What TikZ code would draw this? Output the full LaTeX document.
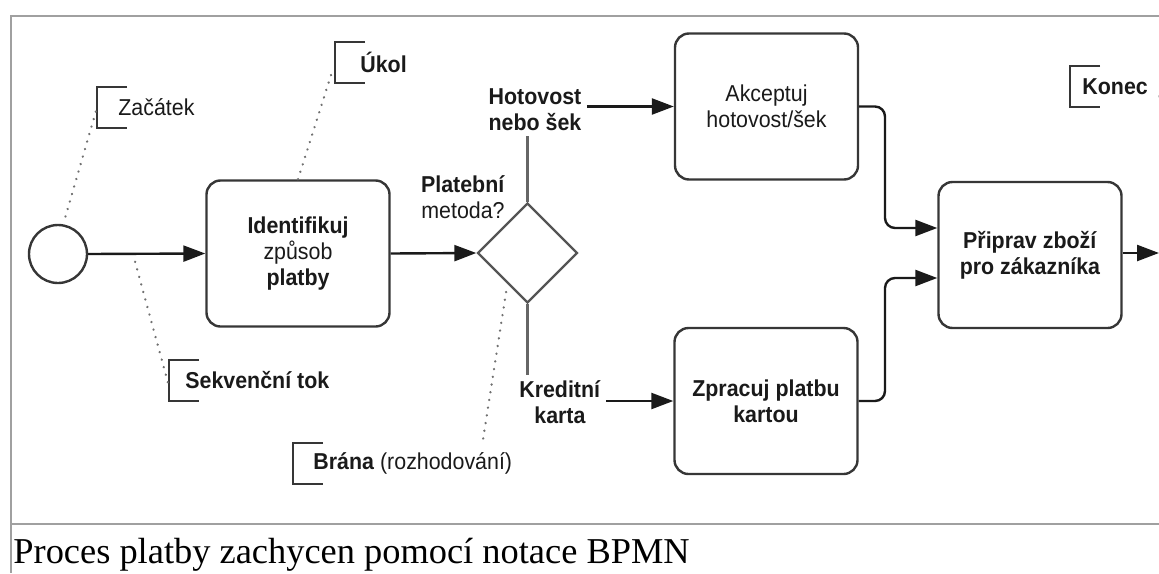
\documentclass[tikz,border=0pt]{standalone}
\usepackage{fontspec}
\setmainfont{Liberation Serif}
\newfontfamily\lblfont[FakeStretch=0.93]{Liberation Sans}
\usetikzlibrary{shapes.geometric,arrows.meta,calc}

\definecolor{framegray}{HTML}{A0A0A0}
\definecolor{boxgray}{HTML}{363636}
\definecolor{gategray}{HTML}{555555}
\definecolor{linkgray}{HTML}{666666}
\definecolor{dotgray}{HTML}{707070}
\definecolor{ink}{HTML}{1A1A1A}

% bracket of a text annotation, drawn along the west side of a node
\newcommand\bracketfor[1]{%
  \draw[brk] ([xshift=15pt]#1.north west) -- (#1.north west)
             -- (#1.south west) -- ([xshift=15pt]#1.south west);}

\begin{document}
\begin{tikzpicture}[x=0.5pt,y=-0.5pt,
  lbl/.style={font=\lblfont\fontsize{11.5}{13}\selectfont, align=center,
              inner sep=2.5pt, text=ink},
  task/.style={lbl, draw=boxgray, line width=1.2pt, rounded corners=7pt,
               minimum width=91.5pt, minimum height=73pt, fill=white},
  flow/.style={draw=ink, line width=1.2pt,
               -{Triangle[length=11pt,width=8pt]}},
  link/.style={draw=linkgray, line width=1.2pt},
  brk/.style={draw=boxgray, line width=1.2pt},
  note/.style={draw=dotgray, line width=1.2pt, line cap=round,
               dash pattern=on 0.1pt off 3.8pt},
  annot/.style={lbl, anchor=west, minimum height=20pt, inner ysep=0pt},
  frame/.style={draw=framegray, line width=1.3pt}
]
\useasboundingbox (0,0) rectangle (1159,573);

% figure frame and caption area
\draw[frame] (1159,16) -- (11,16) -- (11,573);
\draw[frame] (11,524) -- (1159,524);
\node[anchor=base west, inner sep=0, font=\fontsize{18.2}{20}\selectfont]
  (cap) at (13,563) {Proces platby zachycen pomocí notace BPMN};

% events, tasks and the gateway
\node[circle, draw=boxgray, line width=1.2pt, minimum size=29pt, inner sep=0]
  (start) at (58,254) {};
\node[task] (ident) at (298,253.5)
  {\textbf{Identifikuj}\\způsob\\\textbf{platby}};
\node[diamond, draw=gategray, line width=1.2pt, minimum width=50pt,
      minimum height=50pt, inner sep=0, aspect=1] (gw) at (527.5,253) {};
\node[task] (akc) at (766.5,106.5) {Akceptuj\\hotovost/šek};
\node[task] (zpr) at (766,401) {\textbf{Zpracuj platbu}\\\textbf{kartou}};
\node[task] (prip) at (1030,255) {\textbf{Připrav zboží}\\\textbf{pro zákazníka}};

% gateway and branch labels
\node[lbl] (metoda) at (463,197) {\textbf{Platební}\\metoda?};
\node[lbl] (hot) at (535,110) {\textbf{Hotovost}\\\textbf{nebo šek}};
\node[lbl] (kred) at (560,402) {\textbf{Kreditní}\\\textbf{karta}};

% sequence flows
\draw[flow] (start.east) -- (ident.west);
\draw[flow] (ident.east) -- (gw.west);
\draw[link] (gw.north) -- (gw.north |- hot.south);
\draw[flow] (hot.east |- akc.west) -- (akc.west);
\draw[link] (gw.south) -- (gw.south |- kred.north);
\draw[flow] (kred.east |- zpr.west) -- (zpr.west);
\coordinate (j1) at (885,228);
\coordinate (j2) at (885,278);
\draw[flow, rounded corners=5pt] (akc.east) -| (j1) -- (prip.west |- j1);
\draw[flow, rounded corners=5pt] (zpr.east) -| (j2) -- (prip.west |- j2);
\coordinate (out) at (1159,253);
\draw[flow] (prip.east |- out) -- (out);

% text annotations
\node[annot, inner xsep=10.5pt] (zac) at (97,107.5) {Začátek};
\node[annot, inner xsep=12.5pt] (ukol) at (335,62.5) {\textbf{Úkol}};
\node[annot, inner xsep=8pt] (sek) at (169,380.5) {\textbf{Sekvenční tok}};
\node[annot, inner xsep=10pt] (bra) at (293,463.5) {\textbf{Brána} (rozhodování)};
\node[annot, inner xsep=6pt] (kon) at (1070,86.5) {\textbf{Konec}};
\bracketfor{zac}
\bracketfor{ukol}
\bracketfor{sek}
\bracketfor{bra}
\bracketfor{kon}

% associations of the annotations
\coordinate (s1) at (133,254);
\coordinate (b1) at (482,446);
\coordinate (k1) at (1159,97);
\draw[note, shorten <=4pt, shorten >=1pt] (start.80) -- (zac.west);
\draw[note, shorten >=3pt] (ident.north) -- (ukol.west);
\draw[note, shorten <=4pt, shorten >=1pt] (s1) -- ($(sek.west)+(0,-3pt)$);
\draw[note, shorten <=4pt] (gw.237) -- (b1);
\draw[note, shorten <=2pt] ($(kon.east)+(3pt,0)$) -- (k1);
\end{tikzpicture}
\end{document}
